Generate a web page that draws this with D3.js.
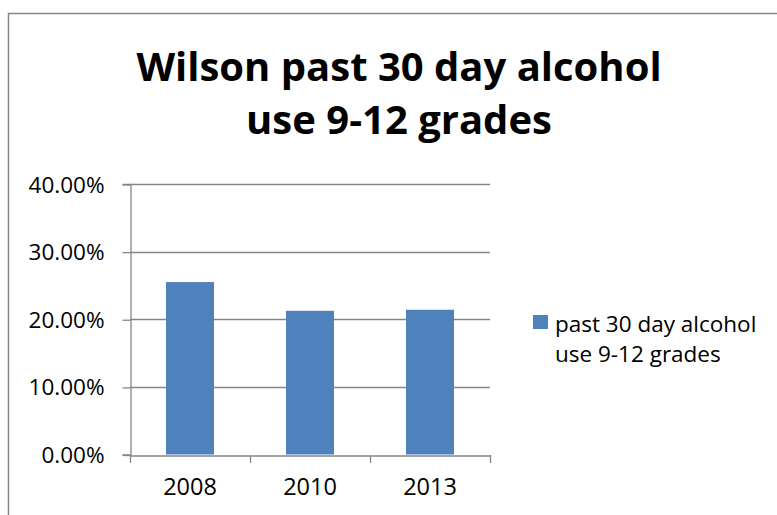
<!DOCTYPE html>
<html>
<head>
<meta charset="utf-8">
<script src="https://cdn.jsdelivr.net/npm/d3@7"></script>
<style>
  html, body { margin: 0; padding: 0; background: #fff; }
  svg { display: block; }
  text { font-family: "Open Sans", "Noto Sans", sans-serif; fill: #000; }
</style>
</head>
<body>
<script>
// Chart data
const years = ["2008", "2010", "2013"];
const alcoholUse = [0.255, 0.2125, 0.214];
const yTicks = [0, 0.1, 0.2, 0.3, 0.4];
const titleLines = ["Wilson past 30 day alcohol", "use 9-12 grades"];
const seriesName = ["past 30 day alcohol", "use 9-12 grades"];

const W = 777, H = 515;
const plot = { left: 130, right: 490, top: 184, bottom: 454.5 };
const grey = "#868686";
const barColor = "#4F81BD";

const svg = d3.select("body").append("svg")
  .attr("width", W).attr("height", H);

// Chart frame (top and left edges visible)
svg.append("path")
  .attr("d", `M8.5,${H} V13.5 H${W}`)
  .attr("fill", "none").attr("stroke", grey).attr("stroke-width", 1.5);

// Title
svg.append("g").selectAll("text").data(titleLines).join("text")
  .attr("x", 399)
  .attr("y", (d, i) => 81 + i * 53)
  .attr("text-anchor", "middle")
  .attr("font-size", 40)
  .attr("font-weight", 700)
  .text(d => d);

const x = d3.scaleBand().domain(years).range([plot.left, plot.right]).paddingInner(0.6).paddingOuter(0.3);
const y = d3.scaleLinear().domain([0, 0.4]).range([plot.bottom, plot.top]);

// Gridlines
svg.append("g").selectAll("line").data(yTicks.slice(1)).join("line")
  .attr("x1", plot.left).attr("x2", plot.right)
  .attr("y1", d => Math.round(y(d)) + 0.5).attr("y2", d => Math.round(y(d)) + 0.5)
  .attr("stroke", grey).attr("stroke-width", 1.3);

// Y axis
const yAxis = svg.append("g")
  .attr("transform", `translate(${plot.left + 0.5},0)`)
  .call(d3.axisLeft(y).tickValues(yTicks).tickFormat(d3.format(".2%")).tickSize(8).tickPadding(18));
yAxis.select(".domain").attr("stroke", grey).attr("stroke-width", 1.3);
yAxis.selectAll(".tick line").attr("stroke", grey).attr("stroke-width", 1.3)
  .attr("transform", "translate(0,0.5)");
yAxis.selectAll(".tick text").attr("font-size", 22.5).attr("font-family", "'Open Sans', sans-serif").attr("fill", "#000").attr("dy", "0.36em");

// Bars
svg.append("g").selectAll("rect").data(years.map((yr, i) => ({ yr, v: alcoholUse[i] }))).join("rect")
  .attr("x", d => x(d.yr))
  .attr("width", x.bandwidth())
  .attr("y", d => y(d.v))
  .attr("height", d => y(0) - y(d.v))
  .attr("fill", barColor);

// X axis
const xOuter = d3.scaleBand().domain(years).range([plot.left, plot.right]);
const xAxis = svg.append("g")
  .attr("transform", `translate(0,${Math.round(plot.bottom) + 0.5})`)
  .call(d3.axisBottom(xOuter).tickSize(0).tickPadding(23));
xAxis.select(".domain").attr("stroke", grey).attr("stroke-width", 1.3);
xAxis.selectAll(".tick text").attr("font-size", 23.5).attr("font-family", "'Open Sans', sans-serif").attr("fill", "#000");
// Category separators on the x axis
svg.append("g").selectAll("line").data([...years.map(d => xOuter(d)), plot.right]).join("line")
  .attr("x1", d => Math.round(d) + 0.5).attr("x2", d => Math.round(d) + 0.5)
  .attr("y1", Math.round(plot.bottom)).attr("y2", Math.round(plot.bottom) + 8)
  .attr("stroke", grey).attr("stroke-width", 1.3);

// Legend
const legend = svg.append("g");
legend.append("rect").attr("x", 533).attr("y", 315).attr("width", 15).attr("height", 14).attr("fill", barColor);
legend.selectAll("text").data(seriesName).join("text")
  .attr("x", 555).attr("y", (d, i) => 332 + i * 30)
  .attr("font-size", 22.5)
  .text(d => d);
</script>
</body>
</html>
